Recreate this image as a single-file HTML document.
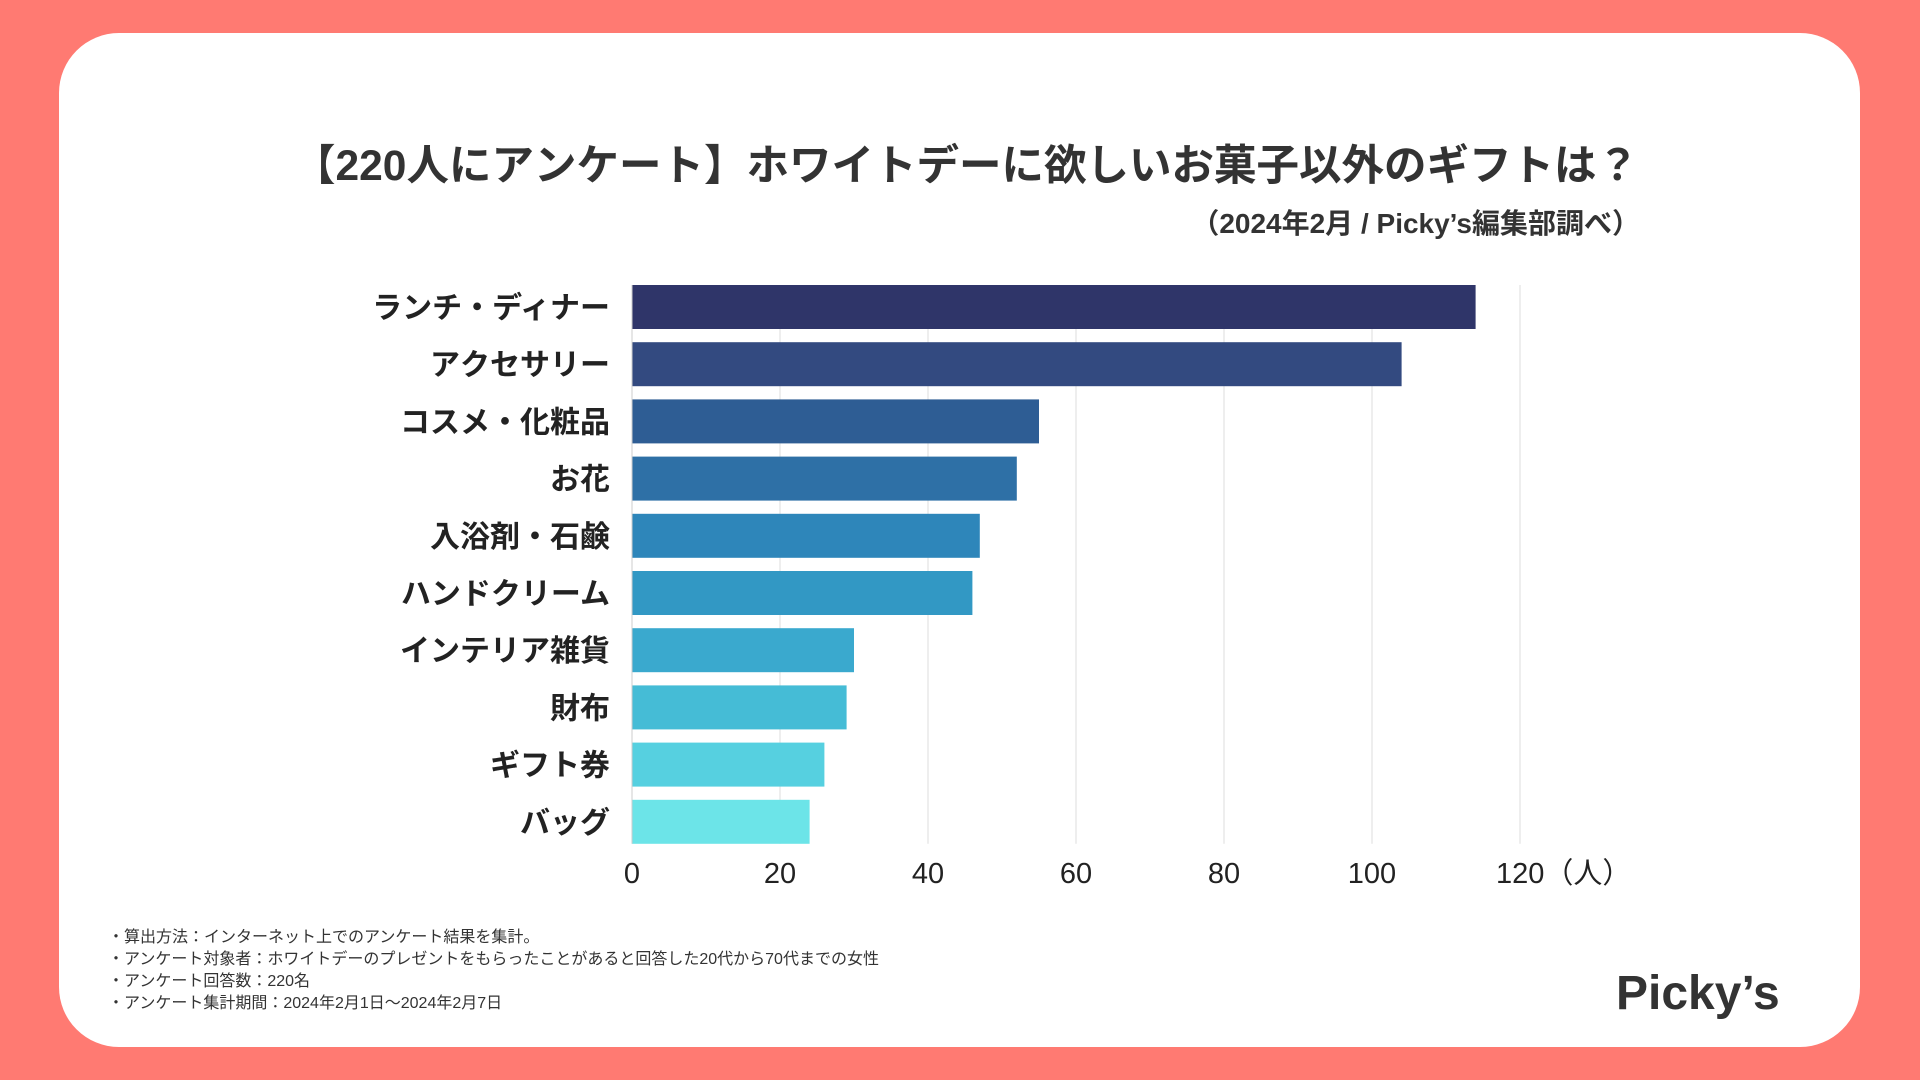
<!DOCTYPE html>
<html><head><meta charset="utf-8"><style>
html,body{margin:0;padding:0}
body{width:1920px;height:1080px;background:#FF7A72;position:relative;overflow:hidden;font-family:"Liberation Sans","Noto Sans CJK JP",sans-serif;color:#222}
#card{position:absolute;left:59px;top:33px;width:1801px;height:1014px;background:#fff;border-radius:60px}
.t{position:absolute;white-space:nowrap}
</style></head><body>
<div id="card"></div>
<div class="t" style="left:0;width:1932px;text-align:center;top:132px;font-size:42.5px;font-weight:bold;color:#333">【220人にアンケート】ホワイトデーに欲しいお菓子以外のギフトは？</div>
<div class="t" style="right:280px;top:202px;font-size:28px;font-weight:bold;color:#333">（2024年2月 / Picky’s編集部調べ）</div>
<svg id="chart" width="1920" height="1080" style="position:absolute;left:0;top:0"></svg>
<div style="position:absolute;left:108px;top:927px;font-size:16px;line-height:22px;color:#333">
<div>・算出方法：インターネット上でのアンケート結果を集計。</div>
<div>・アンケート対象者：ホワイトデーのプレゼントをもらったことがあると回答した20代から70代までの女性</div>
<div>・アンケート回答数：220名</div>
<div>・アンケート集計期間：2024年2月1日〜2024年2月7日</div>
</div>
<div class="t" style="left:1616px;top:966px;font-size:48px;font-weight:bold;color:#333">Picky’s</div>
<script>
const categories=["ランチ・ディナー","アクセサリー","コスメ・化粧品","お花","入浴剤・石鹸","ハンドクリーム","インテリア雑貨","財布","ギフト券","バッグ"];
const values=[114,104,55,52,47,46,30,29,26,24];
const tickValues=[0,20,40,60,80,100,120];
const tickLabels=["0","20","40","60","80","100","120（人）"];
const colors=["#2f3569","#334a80","#2e5d94","#2e70a6","#2e86ba","#3298c4","#3aa9ce","#45bcd6","#56d0e0","#6ce4e8"];
const svg=document.getElementById('chart');
const NS='http://www.w3.org/2000/svg';
const x0=632,xPer=7.4,top0=285,pitch=57.2,bh=44;
const xs=v=>x0+v*xPer;
const ys=i=>top0+i*pitch;
const plotBottom=ys(categories.length-1)+bh;
function mk(t,a){const e=document.createElementNS(NS,t);for(const k in a)e.setAttribute(k,a[k]);svg.appendChild(e);return e;}
tickValues.forEach((v,i)=>{
 if(v>0){const g=mk('line',{x1:xs(v),x2:xs(v),y1:top0,y2:plotBottom,stroke:'#dddddd','stroke-width':1});
 
 }
 const t=mk('text',{x:xs(v)-(i===tickValues.length-1?24:0),y:883,'font-size':29,fill:'#222','text-anchor':i===tickValues.length-1?'start':'middle','font-family':'Liberation Sans, Noto Sans CJK JP, sans-serif'});
 t.textContent=tickLabels[i];
 
 
});
categories.forEach((c,i)=>{
 const r=mk('rect',{x:x0,y:ys(i),width:xs(values[i])-x0,height:bh,fill:colors[i]});
 
 
 const t=mk('text',{x:610,y:ys(i)+bh/2+11,'font-size':30,'font-weight':'bold',fill:'#222','text-anchor':'end','font-family':'Liberation Sans, Noto Sans CJK JP, sans-serif'});
 t.textContent=c;
 
 
});
const ax=mk('line',{x1:x0,x2:x0,y1:top0,y2:plotBottom,stroke:'#cccccc','stroke-width':1});


</script>
</body></html>
